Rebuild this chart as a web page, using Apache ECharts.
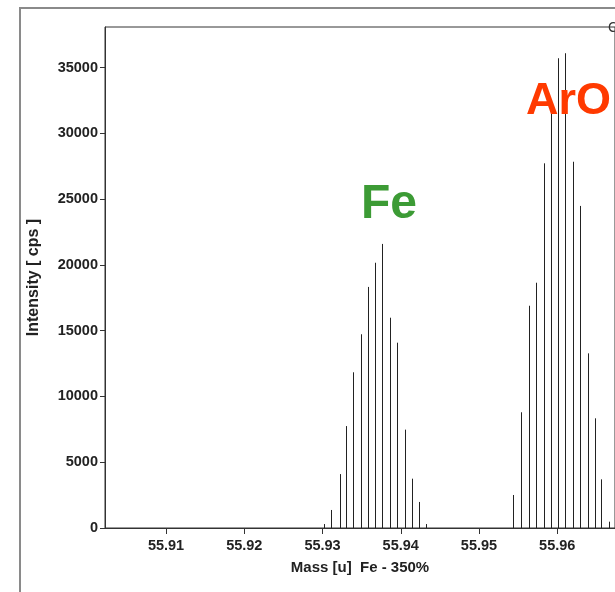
<!DOCTYPE html>
<html style="height: 100%">
<head>
<meta charset="utf-8">
<script src="https://cdn.jsdelivr.net/npm/echarts@6/dist/echarts.min.js"></script>
</head>
<body style="height: 100%; margin: 0; background: #fff">
<div id="container" style="width: 615px; height: 592px"></div>
<script type="text/javascript">
// peak positions and heights
var feMass = [55.93013, 55.93102, 55.93221, 55.93306, 55.93395, 55.93494, 55.93578,
    55.93667, 55.93765, 55.93867, 55.93957, 55.94055, 55.94144, 55.94228, 55.94327];
var feIntensity = [300, 1370, 4100, 7750, 11840, 14730, 18330, 20170,
    21600, 15990, 14090, 7480, 3750, 1980, 300];

var aroMass = [55.95439, 55.95541, 55.95643, 55.95728, 55.9583, 55.9592, 55.96004,
    55.96098, 55.962, 55.96293, 55.96392, 55.96481, 55.96561, 55.96663];
var aroIntensity = [2510, 8800, 16900, 18650, 27730, 32500, 35720,
    36100, 27850, 24490, 13280, 8340, 3700, 480];

var xTicks = [55.91, 55.92, 55.93, 55.94, 55.95, 55.96];
var yTicks = [0, 5000, 10000, 15000, 20000, 25000, 30000, 35000];

var font = '"Liberation Sans", Arial, sans-serif';

function pairs(xs, ys) {
    var out = [];
    for (var i = 0; i < xs.length; i++) out.push([xs[i], ys[i]]);
    return out;
}

function renderItem(params, api) {
    var top = api.coord([api.value(0), api.value(1)]);
    var base = api.coord([api.value(0), 0]);
    var x = Math.round(top[0]) + 0.5;
    return {
        type: 'line',
        shape: { x1: x, y1: top[1], x2: x, y2: base[1] },
        style: { stroke: '#222', lineWidth: 1 }
    };
}

var myChart = echarts.init(document.getElementById('container'));

var option = {
    animation: false,
    grid: {
        show: true,
        left: 105,
        top: 27,
        width: 511,
        height: 501,
        borderColor: '#333',
        borderWidth: 1,
        backgroundColor: '#fff'
    },
    xAxis: {
        type: 'value',
        min: 55.9022,
        max: 55.96738,
        name: 'Mass [u]  Fe - 350%',
        nameLocation: 'middle',
        nameGap: 32,
        nameTextStyle: { fontFamily: font, fontWeight: 'bold', fontSize: 15, color: '#222' },
        axisLine: { lineStyle: { color: '#333', width: 1 } },
        axisTick: { show: true, length: 6, customValues: xTicks, lineStyle: { color: '#333' } },
        axisLabel: {
            customValues: xTicks,
            fontFamily: font, fontWeight: 'bold', fontSize: 14.5, color: '#222', margin: 10,
            formatter: function (v) { return v.toFixed(2); }
        },
        splitLine: { show: false }
    },
    yAxis: {
        type: 'value',
        min: 0,
        max: 38095,
        name: 'Intensity [ cps ]',
        nameLocation: 'middle',
        nameGap: 63,
        nameTextStyle: { fontFamily: font, fontWeight: 'bold', fontSize: 16, color: '#222' },
        axisLine: { show: true, lineStyle: { color: '#333', width: 1 } },
        axisTick: { show: true, length: 5, customValues: yTicks, lineStyle: { color: '#333' } },
        axisLabel: {
            customValues: yTicks,
            fontFamily: font, fontWeight: 'bold', fontSize: 14.5, color: '#222', margin: 7,
            formatter: function (v) { return String(v); }
        },
        splitLine: { show: false }
    },
    series: [{
        type: 'custom',
        name: 'Fe',
        renderItem: renderItem,
        clip: true,
        data: pairs(feMass, feIntensity)
    }, {
        type: 'custom',
        name: 'ArO',
        renderItem: renderItem,
        clip: true,
        data: pairs(aroMass, aroIntensity)
    }],
    graphic: [{
        type: 'rect',
        z: -10,
        shape: { x: 20, y: 8, width: 700, height: 700 },
        style: { fill: 'none', stroke: '#8a8a8a', lineWidth: 2 }
    }, {
        type: 'text',
        z: 100,
        x: 361, y: 205,
        style: { text: 'Fe', fill: '#3c9b35', font: 'bold 48px Arial, "Liberation Sans", sans-serif', align: 'left', verticalAlign: 'middle' }
    }, {
        type: 'text',
        z: 100,
        x: 526, y: 102,
        style: { text: 'ArO', fill: '#ff3a00', font: 'bold 45px Arial, "Liberation Sans", sans-serif', align: 'left', verticalAlign: 'middle' }
    }, {
        type: 'text',
        z: 100,
        x: 608, y: 28,
        style: { text: 'C', fill: '#333', font: '14px Arial, sans-serif', align: 'left', verticalAlign: 'middle' }
    }]
};

myChart.setOption(option);
</script>
</body>
</html>
